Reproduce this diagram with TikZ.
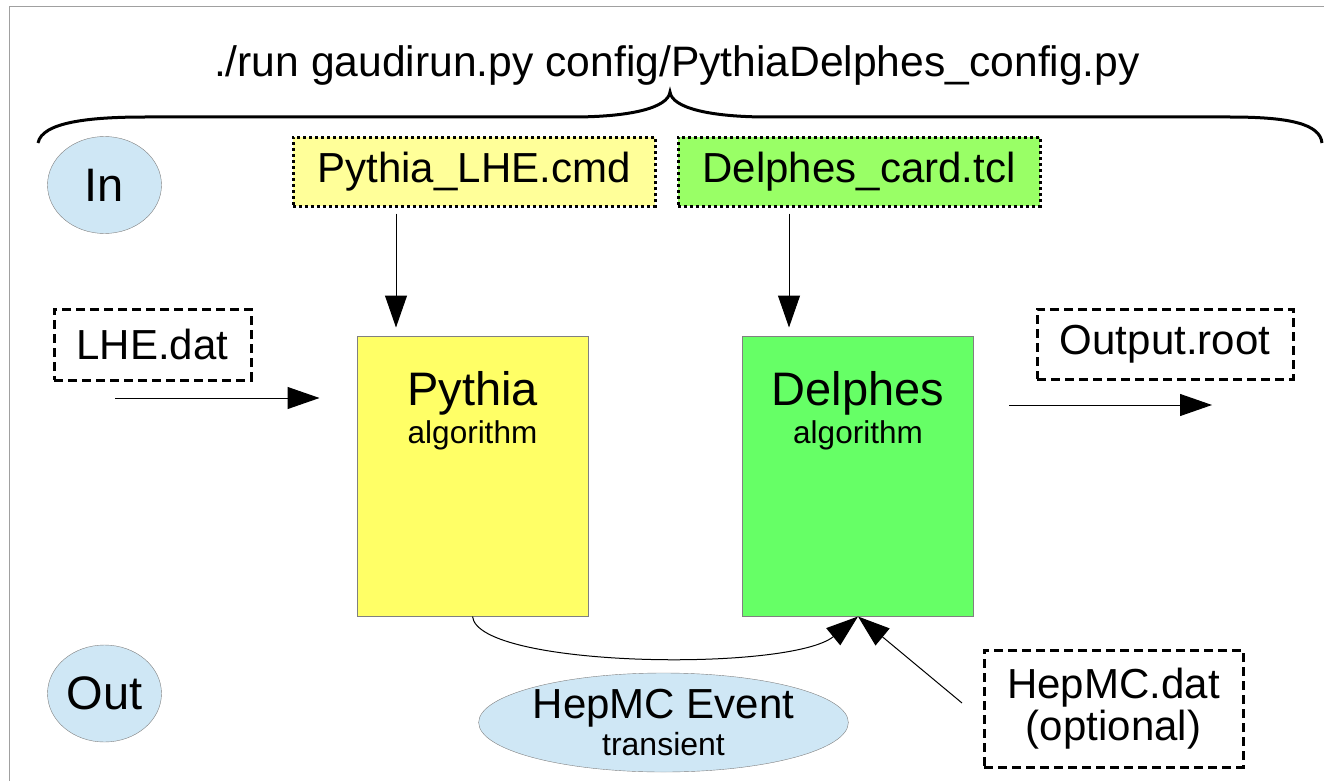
\documentclass[tikz,border=0pt]{standalone}
\usepackage{fontspec}
\setmainfont{Liberation Sans}
\usetikzlibrary{arrows.meta,shapes.geometric}

\definecolor{cmdyellow}{HTML}{FFFF99}
\definecolor{cardgreen}{HTML}{99FF66}
\definecolor{algyellow}{HTML}{FFFF66}
\definecolor{alggreen}{HTML}{66FF66}
\definecolor{bubbleblue}{HTML}{CFE7F5}
\definecolor{edgegrey}{HTML}{808080}
\definecolor{framegrey}{HTML}{A0A0A0}

\newcommand{\fsz}[1]{\fontsize{#1}{#1}\selectfont}

\begin{document}
\begin{tikzpicture}[x=1pt,y=-1pt,
    flow/.style={-{Triangle[length=32pt,width=22pt]}, line width=1pt},
    iobubble/.style={ellipse, draw=edgegrey, fill=bubbleblue, inner sep=0pt,
                     minimum width=114pt, minimum height=97pt, font=\fsz{47}},
    cfgfile/.style={draw, line width=3pt, dash pattern=on 3pt off 3pt, inner sep=0pt,
                    minimum width=362pt, minimum height=69pt, font=\fsz{42}},
    datafile/.style={draw, line width=3pt, dash pattern=on 9pt off 5pt, inner sep=0pt,
                     align=center, font=\fsz{42}},
    algbox/.style={draw=edgegrey, line width=1pt, inner sep=0pt,
                   minimum width=231pt, minimum height=280pt},
  ]
    \useasboundingbox (0,0) rectangle (1324,781);

    %% frame
    \draw[framegrey, line width=1pt] (9,781) -- (9,7) -- (1324,7);

    %% command line and brace
    \node[anchor=base, font=\fsz{42.6}] (cmdline) at (677,77) {./run gaudirun.py config/PythiaDelphes\_config.py};
    \draw[line width=3pt] (38,143) .. controls (42,122) and (90,117) .. (145,117) -- (572,117)
        .. controls (630,117) and (668,108) .. (670,92)
        .. controls (672,108) and (710,117) .. (768,117) -- (1230,117)
        .. controls (1290,117) and (1320,124) .. (1322,143);

    %% In / Out
    \node[iobubble] (in)  at (104.5,185)   {In};
    \node[iobubble] (out) at (104.5,693.5) {Out};

    %% config files
    \node[cfgfile, fill=cmdyellow] (pycmd) at (474,171.5) {\raisebox{-2pt}{Pythia\_LHE.cmd}};
    \node[cfgfile, fill=cardgreen] (card)  at (859,171.5) {\raisebox{-2pt}{Delphes\_card.tcl}};

    %% algorithms
    \node[algbox, fill=algyellow] (pythia)  at (472.5,476) {};
    \node[anchor=base] (pythialbl) at (472.5,405) {\fsz{47}Pythia};
    \node[anchor=base] (pythiasub) at (472.5,443) {\fsz{31.5}algorithm};

    \node[algbox, fill=alggreen] (delphes) at (858,476) {};
    \node[anchor=base] (delpheslbl) at (858,405) {\fsz{47}Delphes};
    \node[anchor=base] (delphessub) at (858,443) {\fsz{31.5}algorithm};

    %% data files
    \node[datafile, minimum width=197pt, minimum height=71pt] (lhe)    at (152.5,344.5) {LHE.dat};
    \node[datafile, minimum width=256pt, minimum height=70pt] (root)   at (1165,344)    {Output.root};
    \node[datafile, minimum width=259pt, minimum height=117pt, font=\fontsize{42}{42}\selectfont]
        (hepdat) at (1113.5,708.5) {HepMC.dat\\(optional)};

    %% transient event
    \node[ellipse, draw=edgegrey, fill=bubbleblue, inner sep=0pt, minimum width=341pt,
          minimum height=99pt, align=center, font=\fontsize{42}{37}\selectfont]
        (hepev) at (663.5,722.5) {HepMC Event\\{\fsz{32}transient}};

    %% arrows
    \coordinate (lhein)   at (115,398);
    \coordinate (rootout) at (1212,405);
    \coordinate (hepin)   at (962,703);

    \draw[flow, shorten <=6pt, shorten >=8pt] (pycmd.south -| 396,0) -- (pythia.north -| 396,0);
    \draw[flow, shorten <=6pt, shorten >=8pt] (card.south -| 789,0) -- (delphes.north -| 789,0);
    \draw[flow, shorten >=37pt] (lhein) -- (pythia.west |- lhein);
    \draw[flow, shorten <=35pt] (delphes.east |- rootout) -- (rootout);
    \draw[flow] (pythia.south) .. controls (478,668) and (790,672) .. (delphes.south);
    \draw[flow] (hepin) -- (delphes.south);

\end{tikzpicture}
\end{document}
